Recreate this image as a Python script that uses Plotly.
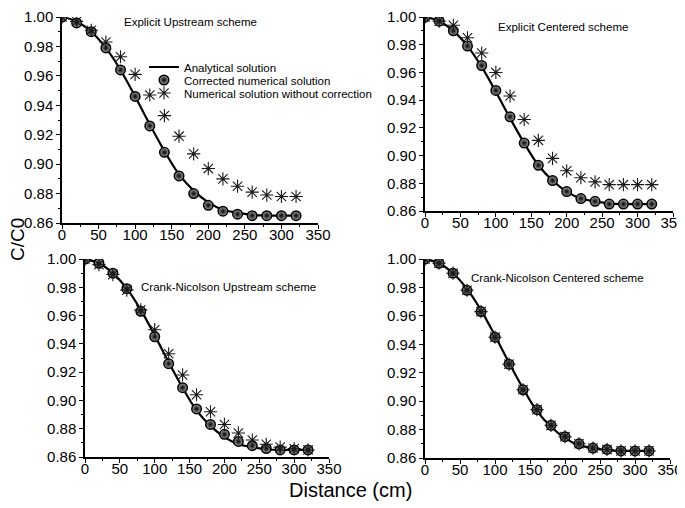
import plotly.graph_objects as go

distance = [0, 20, 40, 60, 80, 100, 120, 140, 160, 180, 200, 220, 240, 260, 280, 300, 320]
analytical = [1.000, 0.997, 0.990, 0.979, 0.964, 0.946, 0.927, 0.909, 0.893, 0.882, 0.874, 0.869, 0.867, 0.8655, 0.865, 0.865, 0.865]

# Explicit Upstream
eu_corr = [1.000, 0.996, 0.990, 0.979, 0.964, 0.946, 0.926, 0.908, 0.892, 0.880, 0.872, 0.868, 0.866, 0.865, 0.865, 0.865, 0.865]
eu_nocorr = [1.000, 0.997, 0.991, 0.983, 0.973, 0.961, 0.947, 0.933, 0.919, 0.907, 0.897, 0.890, 0.885, 0.881, 0.879, 0.878, 0.878]
# Explicit Centered
ec_corr = [1.000, 0.997, 0.990, 0.979, 0.965, 0.947, 0.928, 0.909, 0.893, 0.882, 0.874, 0.869, 0.867, 0.865, 0.865, 0.865, 0.865]
ec_nocorr = [1.000, 0.997, 0.994, 0.985, 0.974, 0.960, 0.943, 0.926, 0.911, 0.898, 0.889, 0.884, 0.881, 0.879, 0.879, 0.879, 0.879]
# Crank-Nicolson Upstream
cu_corr = [1.000, 0.997, 0.990, 0.979, 0.963, 0.945, 0.926, 0.909, 0.894, 0.883, 0.876, 0.871, 0.868, 0.866, 0.865, 0.865, 0.865]
cu_nocorr = [1.000, 0.996, 0.989, 0.978, 0.964, 0.950, 0.933, 0.918, 0.904, 0.892, 0.883, 0.877, 0.872, 0.869, 0.867, 0.866, 0.865]
# Crank-Nicolson Centered
cc_corr = [1.000, 0.997, 0.990, 0.978, 0.963, 0.945, 0.926, 0.908, 0.894, 0.883, 0.875, 0.870, 0.867, 0.866, 0.865, 0.865, 0.865]
cc_nocorr = [1.000, 0.997, 0.990, 0.978, 0.963, 0.945, 0.926, 0.908, 0.894, 0.883, 0.875, 0.870, 0.867, 0.866, 0.865, 0.865, 0.865]

panel_titles = ["Explicit Upstream scheme", "Explicit Centered scheme",
                "Crank-Nicolson Upstream scheme", "Crank-Nicolson Centered scheme"]
series_names = ["Analytical solution", "Corrected numerical solution", "Numerical solution without correction"]
x_ticks = [0, 50, 100, 150, 200, 250, 300, 350]
y_ticks = [0.86, 0.88, 0.90, 0.92, 0.94, 0.96, 0.98, 1.00]

panels = [(eu_corr, eu_nocorr), (ec_corr, ec_nocorr), (cu_corr, cu_nocorr), (cc_corr, cc_nocorr)]
legend_ids = ["legend", "legend2", "legend3"]

W, H, OFF = 685, 508, 8  # page body margin offset


def PX(px):
    return (px - OFF) / W


def PY(py):
    return 1 - (py - OFF) / H


fig = go.Figure()
for i, (corr, nocorr) in enumerate(panels):
    xa = "x" if i == 0 else f"x{i+1}"
    ya = "y" if i == 0 else f"y{i+1}"
    show = (i == 0)
    fig.add_trace(go.Scatter(x=distance, y=analytical, mode="lines", line=dict(color="black", width=2.2, shape="spline"),
                             name=series_names[0], showlegend=show, legend=legend_ids[0], xaxis=xa, yaxis=ya))
    fig.add_trace(go.Scatter(x=distance, y=corr, mode="markers",
                             marker=dict(symbol="circle", size=9.5, color="#a0a0a0",
                                         gradient=dict(type="radial", color="black"),
                                         line=dict(color="black", width=1.5)),
                             name=series_names[1], showlegend=show, legend=legend_ids[1], xaxis=xa, yaxis=ya))
    fig.add_trace(go.Scatter(x=distance, y=nocorr, mode="markers",
                             marker=dict(symbol="asterisk-open", size=11, color="#1a1a1a", line=dict(color="#1a1a1a", width=1.1)),
                             name=series_names[2], showlegend=show, legend=legend_ids[2], xaxis=xa, yaxis=ya))

# panel boxes in reference pixels: (left, right, top, bottom)
boxes = [(62, 318, 17, 223), (425, 673, 17, 211), (85, 329, 259, 457), (425, 670, 259, 458)]
axis_font = dict(family="Liberation Sans, Arial", size=15, color="black")
leg_common = dict(xanchor="left", yanchor="middle", bgcolor="rgba(0,0,0,0)",
                  font=dict(size=11.5, family="Liberation Sans, Arial", color="black"), itemwidth=30)
layout = dict(
    template="none",
    width=W, height=H, margin=dict(l=0, r=0, t=0, b=0, autoexpand=False),
    paper_bgcolor="white", plot_bgcolor="white",
    font=dict(family="Liberation Sans, Arial", color="black"),
    legend=dict(x=PX(144), y=PY(67), **leg_common),
    legend2=dict(x=PX(144), y=PY(80), **leg_common),
    legend3=dict(x=PX(144), y=PY(93), **leg_common),
    showlegend=True,
)
for i, (l, r, t, b) in enumerate(boxes):
    xk = "xaxis" if i == 0 else f"xaxis{i+1}"
    yk = "yaxis" if i == 0 else f"yaxis{i+1}"
    ya = "y" if i == 0 else f"y{i+1}"
    xa = "x" if i == 0 else f"x{i+1}"
    layout[xk] = dict(domain=[PX(l), PX(r)], range=[0, 350], tickvals=x_ticks, showline=True, linecolor="black",
                      linewidth=1.5, ticks="outside", ticklen=4, tickcolor="black", showgrid=False, zeroline=False,
                      tickfont=axis_font, anchor=ya, mirror=False, automargin=False, ticklabeloverflow="allow",
                      ticklabelstandoff=-7,
                      minor=dict(ticks="outside", ticklen=2, tickcolor="black", dtick=25, tick0=0, showgrid=False))
    layout[yk] = dict(domain=[PY(b), PY(t)], range=[0.86, 1.0], tickvals=y_ticks, tickformat=".2f", showline=True,
                      linecolor="black", linewidth=1.5, ticks="outside", ticklen=4, tickcolor="black",
                      showgrid=False, zeroline=False, tickfont=axis_font, anchor=xa, automargin=False,
                      ticklabeloverflow="allow",
                      minor=dict(ticks="outside", ticklen=2, tickcolor="black", dtick=0.01, tick0=0.86, showgrid=False))
fig.update_layout(**layout)

title_pos = [(190, 22), (563, 27), (228, 287), (557, 278)]
for (px, py), t in zip(title_pos, panel_titles):
    fig.add_annotation(text=t, x=PX(px), y=PY(py), xref="paper", yref="paper", showarrow=False,
                       font=dict(size=11.5, family="Liberation Sans, Arial"), xanchor="center", yanchor="middle")

fig.add_annotation(text="C/C0", x=PX(17), y=PY(240), xref="paper", yref="paper", showarrow=False,
                   textangle=-90, font=dict(size=19), xanchor="center", yanchor="middle")
fig.add_annotation(text="Distance (cm)", x=PX(350), y=PY(490), xref="paper", yref="paper", showarrow=False,
                   font=dict(size=20), xanchor="center", yanchor="middle")

fig.write_html("out.html")
